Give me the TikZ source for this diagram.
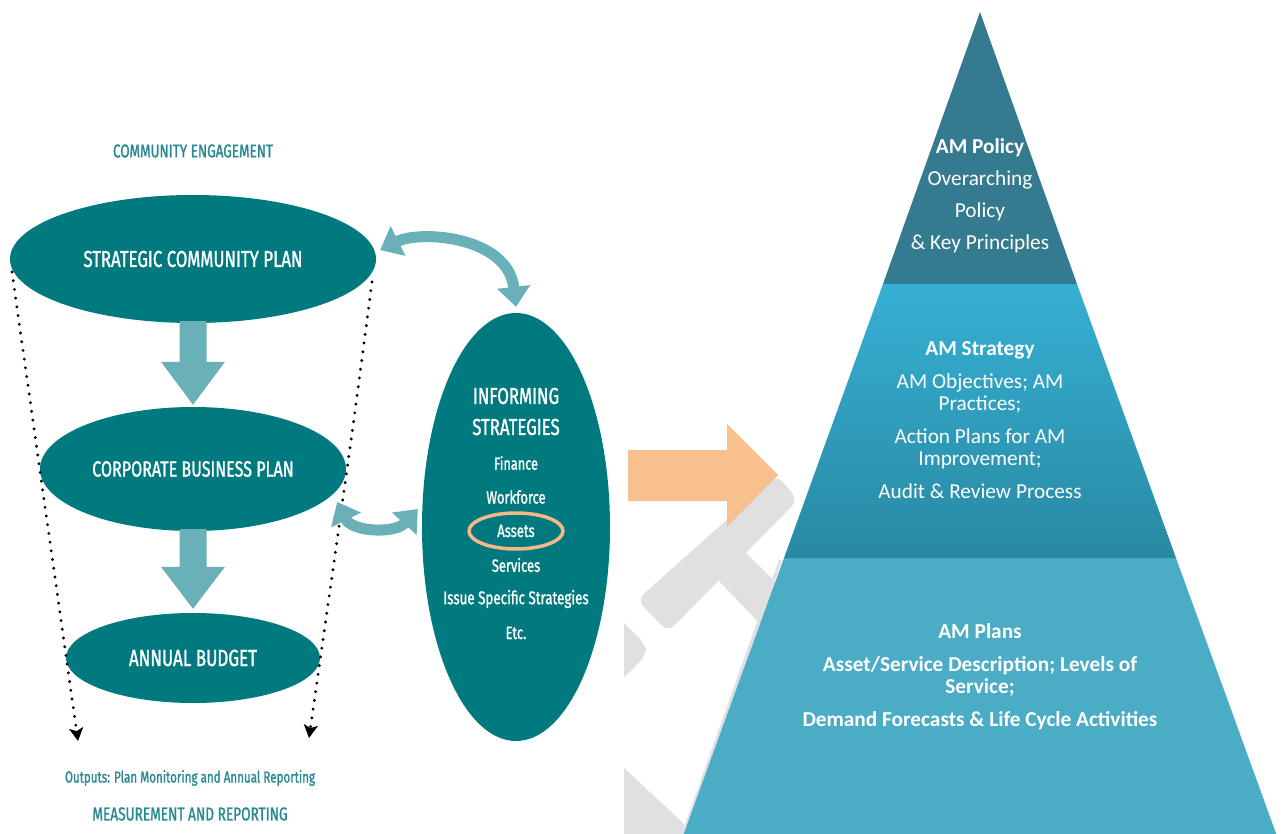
\documentclass[tikz,border=0pt]{standalone}
\usepackage{fontspec}
\setmainfont{Carlito}
\newfontfamily\condf[FakeStretch=0.73,FakeBold=1.2]{Fira Sans}
\usetikzlibrary{shapes.geometric,arrows.meta,calc}
\definecolor{dteal}{RGB}{0,122,126}
\definecolor{lteal}{RGB}{106,176,184}
\definecolor{tealtxt}{RGB}{40,138,144}
\definecolor{orng}{RGB}{249,192,143}
\definecolor{ringc}{RGB}{245,184,135}
\definecolor{wgrey}{RGB}{224,224,224}
\definecolor{tierA}{RGB}{53,123,143}
\definecolor{tierBt}{RGB}{54,176,212}
\definecolor{tierBb}{RGB}{40,137,162}
\definecolor{tierC}{RGB}{75,172,198}
\begin{document}
\begin{tikzpicture}[x=1pt,y=-1pt,
  oval/.style={ellipse, fill=dteal, inner sep=0pt, text=white, font=\condf\fontsize{23}{26}\selectfont},
  subtxt/.style={inner sep=0pt, text=white, font=\condf\fontsize{17.8}{20}\selectfont},
  headtxt/.style={inner sep=0pt, text=white, font=\condf\fontsize{23}{26}\selectfont},
  tealt/.style={inner sep=0pt, text=tealtxt},
  dotline/.style={line width=3.2pt, dash pattern=on 0pt off 8.8pt, line cap=round, -{Stealth[length=13pt,width=14pt,inset=3pt]}},
  dblarr/.style={draw=lteal, line width=11pt, {Triangle[length=20pt,width=32pt]}-{Triangle[length=20pt,width=32pt]}},
  blockarr/.style={fill=lteal},
  tiertxt/.style={inner sep=0pt, text=white, align=center, font=\fontsize{21.3}{22}\selectfont}
]
\useasboundingbox (0,0) rectangle (1283,834);
\fill[white] (0,0) rectangle (1283,834);

% grey watermark
\begin{scope}
\clip (624,0) rectangle (1283,834);
\fill[wgrey, rounded corners=9] (637,600) -- (777,475) -- (798,500) -- (668,632) -- cycle;
\fill[wgrey] (745,552) -- (800,606) -- (772,636) -- (718,580) -- cycle;
\fill[wgrey, rounded corners=8] (610,610) -- (624,623) -- (646,645) -- (646,655) -- (624,678) -- (610,690) -- cycle;
\fill[wgrey] (610,754) -- (624,768) -- (682,822) -- (694,836) -- (610,836) -- cycle;
\end{scope}

% orange block arrow
\fill[orng] (628,450) -- (727,450) -- (727,424) -- (778,475) -- (727,527) -- (727,501) -- (628,501) -- cycle;

% pyramid
\fill[black!12] (782,560) -- (685,836) -- (681,836) -- (779,560) -- cycle;
\fill[tierC] (784,558) -- (1176,558) -- (1277,836) -- (683,836) -- cycle;
\shade[top color=tierBt, bottom color=tierBb] (883,284) -- (1077,284) -- (1176,558) -- (784,558) -- cycle;
\fill[tierA] (980,12) -- (1077,284) -- (883,284) -- cycle;

\node[tiertxt] (t1) at (980,196) {\textbf{AM Policy}\\[10pt]Overarching\\[10pt]Policy\\[10pt]\& Key Principles};
\node[tiertxt] (t2) at (980,420) {\textbf{AM Strategy}\\[11pt]AM Objectives; AM\\Practices;\\[11pt]Action Plans for AM\\Improvement;\\[11pt]Audit \& Review Process};
\node[tiertxt, font=\fontsize{21.3}{22}\selectfont\bfseries] (t3) at (980,677) {AM Plans\\[11pt]Asset/Service Description; Levels of\\Service;\\[11pt]Demand Forecasts \& Life Cycle Activities};

% left diagram
\node[tealt, font=\condf\fontsize{18.5}{22}\selectfont] (ce) at (193,151) {COMMUNITY ENGAGEMENT};
\node[oval, minimum width=366, minimum height=128] (scp) at (193,259) {STRATEGIC COMMUNITY PLAN};
\node[oval, minimum width=306, minimum height=124, font=\condf\fontsize{22}{26}\selectfont] (cbp) at (193,469) {CORPORATE BUSINESS PLAN};
\node[oval, minimum width=254, minimum height=90, font=\condf\fontsize{23.3}{26}\selectfont] (ab) at (193,658) {ANNUAL BUDGET};
\node[tealt, font=\condf\fontsize{15.9}{18}\selectfont] (out) at (190,778) {Outputs: Plan Monitoring and Annual Reporting};
\node[tealt, font=\condf\fontsize{18.7}{22}\selectfont] (mr) at (190,814) {MEASUREMENT AND REPORTING};

\fill[blockarr] ($(scp.south)+(-13.5,-2)$) -- ($(cbp.north)+(-13.5,-45)$) -- ($(cbp.north)+(-32,-45)$) -- ($(cbp.north)+(0,-2)$) -- ($(cbp.north)+(32,-45)$) -- ($(cbp.north)+(13.5,-45)$) -- ($(scp.south)+(13.5,-2)$) -- cycle;
\fill[blockarr] ($(cbp.south)+(-13.5,-2)$) -- ($(ab.north)+(-13.5,-46)$) -- ($(ab.north)+(-32,-46)$) -- ($(ab.north)+(0,-4)$) -- ($(ab.north)+(32,-46)$) -- ($(ab.north)+(13.5,-46)$) -- ($(cbp.south)+(13.5,-2)$) -- cycle;

\coordinate (dl0) at (12,272);
\coordinate (dl1) at (78,741);
\coordinate (dr0) at (372,282);
\coordinate (dr1) at (309,738);
\draw[dotline] (dl0) -- (dl1);
\draw[dotline] (dr0) .. controls (350,450) .. (dr1);

% informing strategies
\node[ellipse, fill=dteal, inner sep=0pt, minimum width=188, minimum height=428] (is) at (516,527) {};
\node[headtxt] (is1) at (516,396) {INFORMING};
\node[headtxt] (is2) at (516,427) {STRATEGIES};
\node[subtxt, font=\condf\fontsize{17.4}{20}\selectfont] (fin) at (516,463) {Finance};
\node[subtxt] (wf) at (516,497) {Workforce};
\node[subtxt, ellipse, draw=ringc, line width=3.5pt, minimum width=94, minimum height=36] (ast) at (516,531) {Assets};
\node[subtxt] (srv) at (516,565) {Services};
\node[subtxt, font=\condf\fontsize{18.3}{20}\selectfont] (iss) at (516,599) {Issue Specific Strategies};
\node[subtxt] (etc) at (516,633) {Etc.};

% curved double arrows
\draw[dblarr] ($(scp.east)+(4,-9)$) .. controls (420,230) and (508,236) .. ($(is.north)+(0,-6)$);
\draw[dblarr] ($(cbp.east)+(-9,33)$) .. controls (352,532) and (395,534) .. ($(is.west)+(-4,-18)$);
\end{tikzpicture}
\end{document}
